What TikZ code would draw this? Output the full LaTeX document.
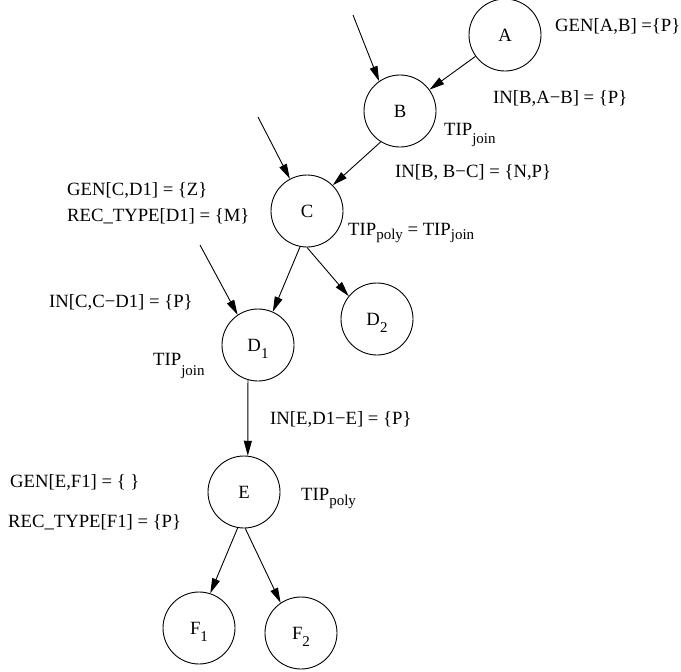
\documentclass[tikz,border=0pt]{standalone}
\usepackage{fontspec}
\setmainfont{Liberation Serif}
\usetikzlibrary{arrows.meta}

% lowered, smaller subscript: optional drop, then the text
\newcommand{\lowsub}[2][7pt]{\raisebox{-#1}{\fontsize{15}{15}\selectfont #2}}

\begin{document}
\begin{tikzpicture}[x=1pt,y=-1pt,
  every node/.style={font=\fontsize{18.7}{22}\selectfont},
  state/.style={circle,draw,line width=0.9pt,minimum size=72pt,inner sep=0pt},
  edge/.style={-{Triangle[length=15pt,width=8pt]},line width=0.9pt},
  lbl/.style={anchor=base west,inner sep=0pt}]
\useasboundingbox (0,0) rectangle (681,672);

% states
\node[state] (A)  at (505,35)  {A};
\node[state] (B)  at (400,111) {B};
\node[state] (C)  at (307,211) {C};
\node[state] (D1) at (258,345) {D\smash{\lowsub{1}}};
\node[state] (D2) at (377,319) {D\smash{\lowsub{2}}};
\node[state] (E)  at (244,492) {E};
\node[state] (F1) at (199,628) {F\smash{\lowsub{1}}};
\node[state] (F2) at (301,633) {F\smash{\lowsub{2}}};

% incoming edges from outside
\coordinate (inB) at (353,15);
\coordinate (inC) at (258,117);
\coordinate (inD) at (200,245);
\draw[edge] (inB) -- (B.125);
\draw[edge] (inC) -- (C.118);
\draw[edge] (inD) -- (D1.124);

% tree edges
\draw[edge] (A) -- (B);
\draw[edge] (B.238) -- (C.45);
\draw[edge] (C.259) -- (D1.66);
\draw[edge] (C.270) -- (D2.141);
\draw[edge] (D1.254) -- (E.84);
\draw[edge] (E.260) -- (F1.72);
\draw[edge] (E.272) -- (F2.124);

% annotations
\node[lbl] (gAB)  at (555,31)  {GEN[A,B] =\{P\}};
\node[lbl] (inAB) at (493,103) {IN[B,A−B] = \{P\}};
\node[lbl] (tipB) at (444,135) {TIP\lowsub[8pt]{join}};
\node[lbl] (inBC) at (395,177) {IN[B, B−C] = \{N,P\}};
\node[lbl] (tipC) at (348,235) {TIP\lowsub[4pt]{poly} = TIP\lowsub[4pt]{join}};
\node[lbl] (gCD)  at (67,195)  {GEN[C,D1] = \{Z\}};
\node[lbl] (rtD)  at (67,221)  {REC\_TYPE[D1] = \{M\}};
\node[lbl] (inCD) at (49,307)  {IN[C,C−D1] = \{P\}};
\node[lbl] (tipD) at (153,365) {TIP\lowsub[10pt]{join}};
\node[lbl] (inDE) at (270,424) {IN[E,D1−E] = \{P\}};
\node[lbl] (gEF)  at (10,487)  {GEN[E,F1] = \{ \}};
\node[lbl] (rtF)  at (8,527)   {REC\_TYPE[F1] = \{P\}};
\node[lbl] (tipE) at (301,500) {TIP\lowsub[5pt]{poly}};
\end{tikzpicture}
\end{document}
